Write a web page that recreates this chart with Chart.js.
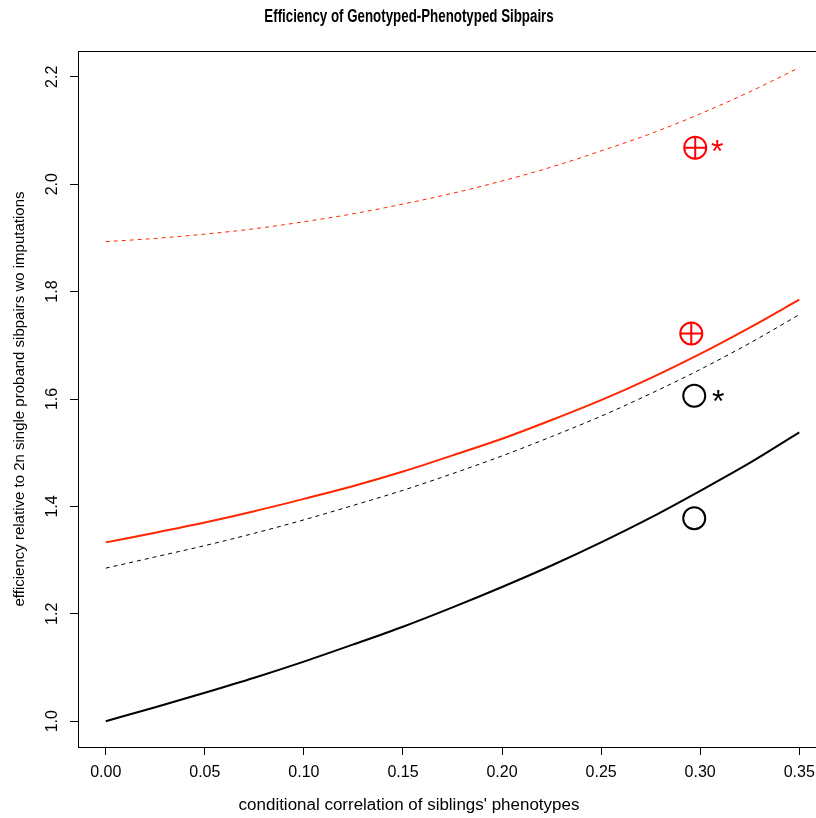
<!DOCTYPE html>
<html>
<head>
<meta charset="utf-8">
<script src="https://cdn.jsdelivr.net/npm/chart.js@4/dist/chart.umd.min.js"></script>
<style>
  html, body { margin: 0; padding: 0; background: #fff; overflow: hidden; }
  #wrap { width: 816px; height: 818px; overflow: hidden; }
</style>
</head>
<body>
<div id="wrap"><canvas id="chart" width="840" height="818"></canvas></div>
<script>
// ===== DATA =====
const rho = [0, 0.025, 0.05, 0.075, 0.1, 0.125, 0.15, 0.175, 0.2, 0.225, 0.25, 0.275, 0.3, 0.325, 0.35];

const blackSolid  = [1.000, 1.026, 1.053, 1.081, 1.111, 1.143, 1.176, 1.212, 1.250, 1.290, 1.333, 1.379, 1.429, 1.481, 1.538];
const blackDashed = [1.285, 1.306, 1.327, 1.350, 1.375, 1.402, 1.430, 1.461, 1.494, 1.530, 1.568, 1.610, 1.655, 1.704, 1.757];
const redSolid    = [1.333, 1.351, 1.370, 1.391, 1.414, 1.438, 1.465, 1.495, 1.526, 1.561, 1.598, 1.639, 1.684, 1.733, 1.785];
const redDashed   = [1.893, 1.899, 1.907, 1.917, 1.930, 1.945, 1.963, 1.983, 2.006, 2.032, 2.062, 2.094, 2.131, 2.172, 2.217];

// observed points
const redPointsX   = [0.2975, 0.2955];
const redPointsY   = [2.068, 1.722];
const blackPointsX = [0.297, 0.297];
const blackPointsY = [1.606, 1.378];

// asterisks next to points
const redStarX   = [0.3086];
const redStarY   = [2.069];
const blackStarX = [0.3091];
const blackStarY = [1.603];

const xTicks = [0, 0.05, 0.10, 0.15, 0.20, 0.25, 0.30, 0.35];
const yTicks = [1.0, 1.2, 1.4, 1.6, 1.8, 2.0, 2.2];

const TITLE  = 'Efficiency of Genotyped-Phenotyped Sibpairs';
const XLABEL = "conditional correlation of siblings' phenotypes";
const YLABEL = 'efficiency relative to 2n single proband sibpairs wo imputations';

// ===== STYLE =====
const FONT = '"Liberation Sans", Arial, sans-serif';
const RED_LINE = '#ff2600';
const RED = '#ff0000';
const TEXT_CX = 409;

const pts = (xs, ys) => xs.map((x, i) => ({ x, y: ys[i] }));

const curve = (label, ys, color, width, dash) => ({
  label,
  data: pts(rho, ys),
  borderColor: color,
  borderWidth: width,
  borderDash: dash,
  pointRadius: 0,
  fill: false,
  cubicInterpolationMode: 'monotone',
  showLine: true
});

const marker = (label, xs, ys, color, style) => ({
  label,
  data: pts(xs, ys),
  showLine: false,
  pointStyle: style,
  pointRadius: 11,
  pointBorderWidth: 2,
  pointBorderColor: color,
  pointBackgroundColor: 'rgba(0,0,0,0)',
  borderColor: color
});

// box, rotated y labels, titles, asterisks
const rDecor = {
  id: 'rDecor',
  afterDraw(chart) {
    const { ctx, chartArea: a, scales: { x, y } } = chart;
    ctx.save();
    ctx.strokeStyle = '#000';
    ctx.lineWidth = 1;
    ctx.strokeRect(Math.round(a.left) + 0.5, Math.round(a.top) + 0.5,
      Math.round(a.right - a.left), Math.round(a.bottom - a.top));

    ctx.fillStyle = '#000';
    ctx.font = '16px ' + FONT;
    ctx.textAlign = 'center';
    ctx.textBaseline = 'middle';
    yTicks.forEach(v => {
      ctx.save();
      ctx.translate(53, y.getPixelForValue(v));
      ctx.rotate(-Math.PI / 2);
      ctx.fillText(v.toFixed(1), 0, 0);
      ctx.restore();
    });

    ctx.font = '15px ' + FONT;
    ctx.save();
    ctx.translate(20, (a.top + a.bottom) / 2);
    ctx.rotate(-Math.PI / 2);
    ctx.fillText(YLABEL, 0, 0);
    ctx.restore();

    ctx.font = '16px ' + FONT;
    ctx.save();
    ctx.translate(TEXT_CX, 806);
    ctx.scale(1.06, 1);
    ctx.fillText(XLABEL, 0, 0);
    ctx.restore();

    ctx.font = 'bold 18px ' + FONT;
    ctx.save();
    ctx.translate(TEXT_CX, 17);
    ctx.scale(0.74, 1);
    ctx.fillText(TITLE, 0, 0);
    ctx.restore();

    ctx.font = '32px ' + FONT;
    ctx.textBaseline = 'alphabetic';
    const star = (xs, ys, col) => xs.forEach((v, i) => {
      ctx.fillStyle = col;
      ctx.fillText('*', x.getPixelForValue(v), y.getPixelForValue(ys[i]) + 15);
    });
    star(redStarX, redStarY, RED);
    star(blackStarX, blackStarY, '#000');
    ctx.restore();
  }
};

new Chart(document.getElementById('chart'), {
  type: 'scatter',
  data: {
    datasets: [
      curve('black solid', blackSolid, '#000', 2, []),
      curve('black dashed', blackDashed, '#000', 1, [4, 4]),
      curve('red solid', redSolid, RED_LINE, 2, []),
      curve('red dashed', redDashed, RED_LINE, 1, [4, 4]),
      marker('red obs', redPointsX, redPointsY, RED, 'circle'),
      marker('red obs cross', redPointsX, redPointsY, RED, 'cross'),
      marker('black obs', blackPointsX, blackPointsY, '#000', 'circle')
    ]
  },
  options: {
    responsive: false,
    animation: false,
    layout: { padding: { top: 51, right: 13, left: 0, bottom: 0 } },
    plugins: {
      legend: { display: false },
      tooltip: { enabled: false },
      title: { display: false }
    },
    scales: {
      x: {
        type: 'linear',
        min: -0.014,
        max: 0.364,
        afterBuildTicks: s => { s.ticks = xTicks.map(v => ({ value: v })); },
        afterFit: s => { s.height = 71; },
        border: { display: false },
        grid: { drawOnChartArea: false, drawTicks: true, tickLength: 8, color: '#000', lineWidth: 1 },
        ticks: {
          color: '#000',
          padding: 8,
          maxRotation: 0,
          autoSkip: false,
          font: { family: FONT, size: 16 },
          callback: v => v.toFixed(2)
        }
      },
      y: {
        type: 'linear',
        min: 0.952,
        max: 2.248,
        afterBuildTicks: s => { s.ticks = yTicks.map(v => ({ value: v })); },
        afterFit: s => { s.width = 78; },
        border: { display: false },
        grid: { drawOnChartArea: false, drawTicks: true, tickLength: 8, color: '#000', lineWidth: 1 },
        ticks: { display: false }
      }
    }
  },
  plugins: [rDecor]
});
</script>
</body>
</html>
